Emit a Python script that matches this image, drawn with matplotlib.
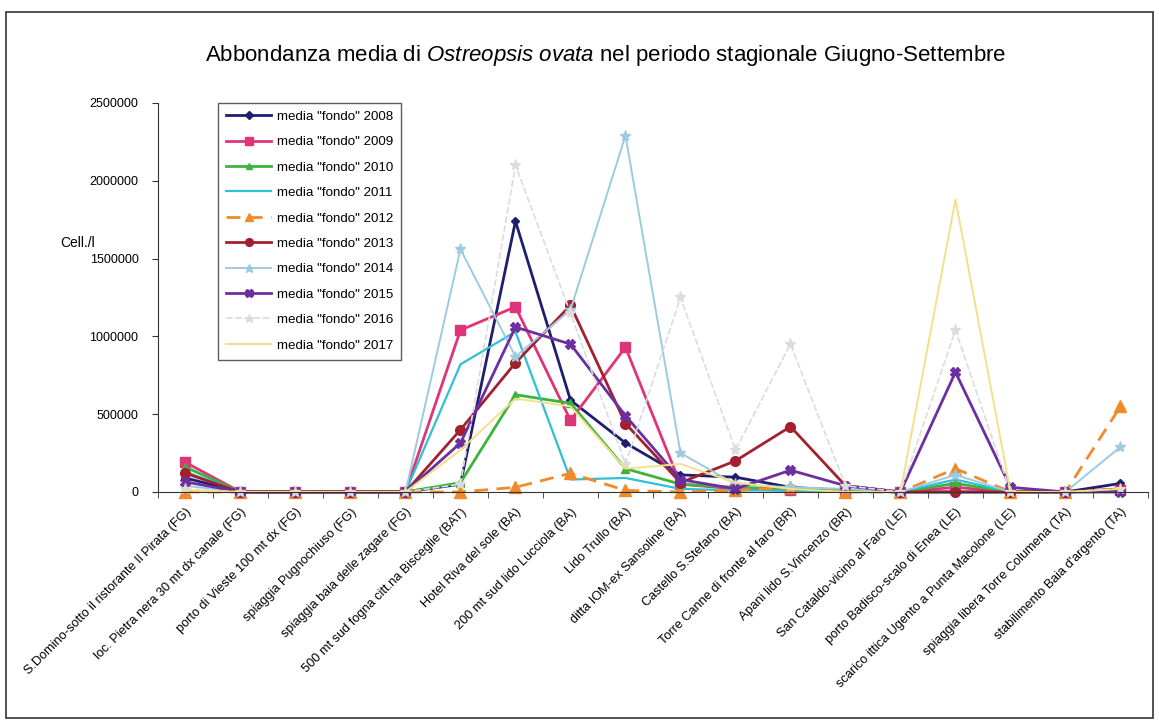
import matplotlib
matplotlib.use("Agg")
import matplotlib.pyplot as plt
from matplotlib.patches import Rectangle
from matplotlib.ticker import FixedLocator, NullFormatter

plt.rcParams['font.family'] = ['Liberation Sans', 'DejaVu Sans']
plt.rcParams['mathtext.fontset'] = 'custom'
plt.rcParams['mathtext.it'] = 'Liberation Sans:italic'
plt.rcParams['mathtext.rm'] = 'Liberation Sans'

sites = [
    "S.Domino-sotto il ristorante Il Pirata (FG)",
    "loc. Pietra nera 30 mt dx canale (FG)",
    "porto di Vieste 100 mt dx (FG)",
    "spiaggia Pugnochiuso (FG)",
    "spiaggia baia delle zagare (FG)",
    "500 mt sud fogna citt.na Bisceglie (BAT)",
    "Hotel Riva del sole (BA)",
    "200 mt sud lido Lucciola (BA)",
    "Lido Trullo (BA)",
    "ditta IOM-ex Sansoline (BA)",
    "Castello S.Stefano (BA)",
    "Torre Canne di fronte al faro (BR)",
    "Apani lido S.Vincenzo (BR)",
    "San Cataldo-vicino al Faro (LE)",
    "porto Badisco-scalo di Enea (LE)",
    "scarico ittica Ugento a Punta Macolone (LE)",
    "spiaggia libera Torre Columena (TA)",
    "stabilimento Baia d'argento (TA)",
]

d2008 = [90000, 0, 0, 0, 0, 50000, 1740000, 590000, 315000, 110000, 95000, 30000, 10000, 0, 0, 0, 0, 55000]
d2009 = [190000, 0, 0, 0, 0, 1040000, 1190000, 460000, 930000, 50000, 20000, 10000, 10000, 0, 30000, 0, 0, 10000]
d2010 = [160000, 0, 0, 0, 0, 60000, 625000, 570000, 150000, 50000, 30000, 20000, 10000, 0, 55000, 0, 0, 10000]
d2011 = [130000, 0, 0, 0, 0, 820000, 1030000, 80000, 90000, 20000, 10000, 10000, 0, 0, 80000, 0, 0, 0]
d2012 = [0, 0, 0, 0, 0, 0, 30000, 120000, 10000, 0, 10000, 30000, 0, 0, 150000, 0, 0, 550000]
d2013 = [120000, 0, 0, 0, 0, 400000, 830000, 1200000, 440000, 60000, 200000, 420000, 40000, 0, 0, 0, 0, 20000]
d2014 = [40000, 0, 0, 0, 0, 1560000, 870000, 1170000, 2290000, 250000, 50000, 30000, 20000, 0, 110000, 0, 0, 290000]
d2015 = [65000, 0, 0, 0, 0, 315000, 1060000, 950000, 490000, 80000, 20000, 140000, 40000, 0, 770000, 30000, 0, 0]
d2016 = [20000, 0, 0, 0, 0, 50000, 2100000, 1150000, 180000, 1250000, 270000, 950000, 40000, 0, 1040000, 0, 0, 20000]
d2017 = [10000, 0, 0, 0, 0, 270000, 600000, 550000, 150000, 180000, 60000, 20000, 0, 0, 1880000, 0, 0, 20000]

series_labels = ['media "fondo" 2008', 'media "fondo" 2009', 'media "fondo" 2010',
                 'media "fondo" 2011', 'media "fondo" 2012', 'media "fondo" 2013',
                 'media "fondo" 2014', 'media "fondo" 2015', 'media "fondo" 2016',
                 'media "fondo" 2017']
yticks = [0, 500000, 1000000, 1500000, 2000000, 2500000]

styles = [
    dict(color='#1e1f6e', marker='D', ms=4.5, lw=2.0, ls='-'),
    dict(color='#e0347a', marker='s', ms=6.5, lw=2.0, ls='-'),
    dict(color='#3cb43c', marker='^', ms=5.5, lw=2.0, ls='-'),
    dict(color='#30c0d4', marker='', ms=0, lw=1.6, ls='-'),
    dict(color='#f08a2a', marker='^', ms=8, lw=2.0, ls=(0, (5, 3))),
    dict(color='#a3202e', marker='o', ms=7, lw=2.0, ls='-'),
    dict(color='#9ccbe0', marker='*', ms=8, lw=1.4, ls='-'),
    dict(color='#6b2fa0', marker='X', ms=7, lw=2.0, ls='-'),
    dict(color='#dcdcdc', marker='*', ms=8, lw=1.2, ls=(0, (4, 1.5))),
    dict(color='#f3e08a', marker='', ms=0, lw=1.4, ls='-'),
]

data = [d2008, d2009, d2010, d2011, d2012, d2013, d2014, d2015, d2016, d2017]

fig = plt.figure(figsize=(11.59, 7.20), dpi=100)
fig.patches.append(Rectangle((0.005, 0.003), 0.99, 0.981, transform=fig.transFigure,
                             fill=False, edgecolor='#333333', lw=1.2))
ax = fig.add_axes([0.1363, 0.3167, 0.8542, 0.5403])

x = list(range(len(sites)))
for vals, lab, st in zip(data, series_labels, styles):
    ax.plot(x, vals, label=lab, color=st['color'], marker=st['marker'] if st['marker'] else None,
            markersize=st['ms'], lw=st['lw'], ls=st['ls'], mec=st['color'], mfc=st['color'],
            clip_on=False)

ax.set_xlim(-0.5, len(sites) - 0.5)
ax.set_ylim(0, 2500000)
ax.set_yticks(yticks)
ax.set_yticklabels([str(v) for v in yticks], fontsize=9)
ax.set_xticks(x)
ax.set_xticklabels(sites, rotation=45, ha='right', rotation_mode='anchor', fontsize=9.2)
ax.tick_params(axis='x', length=0, pad=10)
ax.xaxis.set_minor_locator(FixedLocator([i - 0.5 for i in range(len(sites) + 1)]))
ax.xaxis.set_minor_formatter(NullFormatter())
ax.tick_params(axis='x', which='minor', length=4, direction='out', color='#333333')
ax.tick_params(axis='y', length=4, direction='out', color='#333333', pad=10)
for s in ['top', 'right']:
    ax.spines[s].set_visible(False)
ax.spines['left'].set_color('#333333')
ax.spines['bottom'].set_color('#333333')

fig.text(0.052, 0.662, 'Cell./l', fontsize=10, ha='left', va='center')
fig.text(0.523, 0.923, 'Abbondanza media di $\\mathit{Ostreopsis\\ ovata}$ nel periodo stagionale Giugno-Settembre',
         fontsize=16, ha='center', va='center')

leg = ax.legend(loc='upper left', bbox_to_anchor=(0.054, 1.018), fontsize=9.6, frameon=True,
                fancybox=False, edgecolor='#333333', handlelength=3.4, labelspacing=0.98,
                borderpad=0.6, handletextpad=0.4, markerscale=0.8)
leg.get_frame().set_linewidth(1.0)

fig.savefig('out.png', dpi=100)
